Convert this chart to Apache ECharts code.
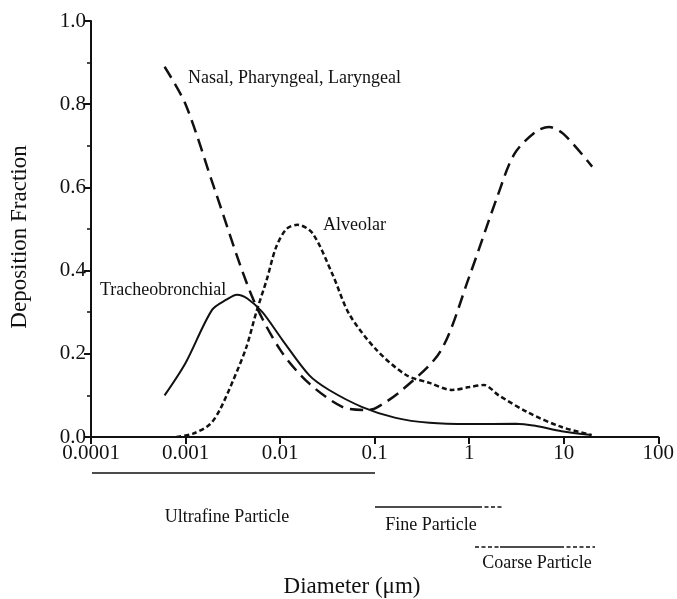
<!DOCTYPE html>
<html>
<head>
<meta charset="utf-8">
<script src="https://cdn.jsdelivr.net/npm/echarts@6/dist/echarts.min.js"></script>
<style>
html,body{margin:0;padding:0;background:#fff;}
#chart{width:677px;height:599px;}
</style>
</head>
<body>
<div id="chart"></div>
<script>
// ---- data ----
var xTickLabels = ['0.0001', '0.001', '0.01', '0.1', '1', '10', '100'];
var nasal = [
  [0.0006, 0.89], [0.001, 0.80], [0.002, 0.60], [0.005, 0.34], [0.01, 0.21],
  [0.02, 0.13], [0.046, 0.072], [0.08, 0.065], [0.1, 0.068], [0.2, 0.115],
  [0.5, 0.207], [1, 0.385], [2, 0.58], [3, 0.68], [5, 0.733], [7, 0.745],
  [10, 0.728], [20, 0.65]
];
var alveolar = [
  [0.0008, 0.0], [0.0012, 0.008], [0.0018, 0.03], [0.0023, 0.065], [0.0032, 0.137],
  [0.0044, 0.216], [0.0056, 0.30], [0.0072, 0.377], [0.0091, 0.457], [0.0117, 0.50],
  [0.0153, 0.51], [0.022, 0.49], [0.036, 0.39], [0.054, 0.295], [0.104, 0.21],
  [0.215, 0.149], [0.38, 0.13], [0.66, 0.113], [1.0, 0.12], [1.43, 0.125],
  [2.06, 0.10], [4.27, 0.058], [9.5, 0.024], [19.7, 0.005]
];
var tracheo = [
  [0.0006, 0.10], [0.001, 0.178], [0.0019, 0.305], [0.0027, 0.33], [0.0035, 0.342],
  [0.0045, 0.333], [0.0065, 0.30], [0.0106, 0.233], [0.0204, 0.148], [0.033, 0.113],
  [0.074, 0.072], [0.167, 0.046], [0.38, 0.034], [1.0, 0.031], [3.1, 0.032],
  [5, 0.027], [9.5, 0.014], [19.7, 0.005]
];
var seriesNames = ['Nasal, Pharyngeal, Laryngeal', 'Alveolar', 'Tracheobronchial'];
var rangeNames = ['Ultrafine Particle', 'Fine Particle', 'Coarse Particle'];

var FONT = '"Liberation Serif", "Times New Roman", serif';
var chart = echarts.init(document.getElementById('chart'));

function txt(x, y, s, size, align) {
  return {
    type: 'text', x: x, y: y,
    style: {text: s, font: size + 'px ' + FONT, fill: '#111', textAlign: align || 'left', textVerticalAlign: 'middle'}
  };
}
function seg(x1, x2, y, dashed) {
  return {
    type: 'line', shape: {x1: x1, y1: y, x2: x2, y2: y},
    style: {stroke: '#111', lineWidth: 1.6, lineDash: dashed ? [4, 2.5] : null}
  };
}

var option = {
  animation: false,
  backgroundColor: '#fff',
  grid: {left: 91, right: 17, top: 21, bottom: 162},
  xAxis: {
    type: 'log', logBase: 10, min: 0.0001, max: 100,
    axisLine: {lineStyle: {color: '#111', width: 2}},
    axisTick: {show: true, length: 7, lineStyle: {color: '#111', width: 2}},
    minorTick: {show: false},
    splitLine: {show: false},
    axisLabel: {
      color: '#111', fontFamily: FONT, fontSize: 21, margin: 6,
      formatter: function (v) {
        var i = Math.round(Math.log10(v)) + 4;
        return xTickLabels[i] || '';
      }
    }
  },
  yAxis: {
    type: 'value', min: 0, max: 1, interval: 0.2,
    axisLine: {show: true, lineStyle: {color: '#111', width: 2}},
    axisTick: {show: true, length: 7, lineStyle: {color: '#111', width: 2}},
    minorTick: {show: true, splitNumber: 2, length: 4, lineStyle: {color: '#111', width: 1.5}},
    splitLine: {show: false},
    axisLabel: {
      color: '#111', fontFamily: FONT, fontSize: 21, margin: 5,
      formatter: function (v) { return v.toFixed(1); }
    }
  },
  series: [
    {name: seriesNames[0], type: 'line', data: nasal, showSymbol: false, smooth: 0.3,
     lineStyle: {color: '#111', width: 2.5, type: [13, 7]}},
    {name: seriesNames[1], type: 'line', data: alveolar, showSymbol: false, smooth: 0.3,
     lineStyle: {color: '#111', width: 2.5, type: [5, 3]}},
    {name: seriesNames[2], type: 'line', data: tracheo, showSymbol: false, smooth: 0.3,
     lineStyle: {color: '#111', width: 2}}
  ],
  graphic: [
    txt(188, 78, seriesNames[0], 18),
    txt(323, 225, seriesNames[1], 18),
    txt(100, 290, seriesNames[2], 18),
    seg(92, 375, 473, false),
    seg(375, 478, 507, false), seg(478, 503, 507, true),
    seg(475, 500, 547, true), seg(500, 560, 547, false), seg(560, 595, 547, true),
    txt(227, 517, rangeNames[0], 18, 'center'),
    txt(431, 525, rangeNames[1], 18, 'center'),
    txt(537, 563, rangeNames[2], 18, 'center'),
    txt(352, 587, 'Diameter (\u03bcm)', 23, 'center'),
    {type: 'text', x: 20, y: 237, rotation: Math.PI / 2,
     style: {text: 'Deposition Fraction', font: '23px ' + FONT, fill: '#111', textAlign: 'center', textVerticalAlign: 'middle'}}
  ]
};
chart.setOption(option);
</script>
</body>
</html>
